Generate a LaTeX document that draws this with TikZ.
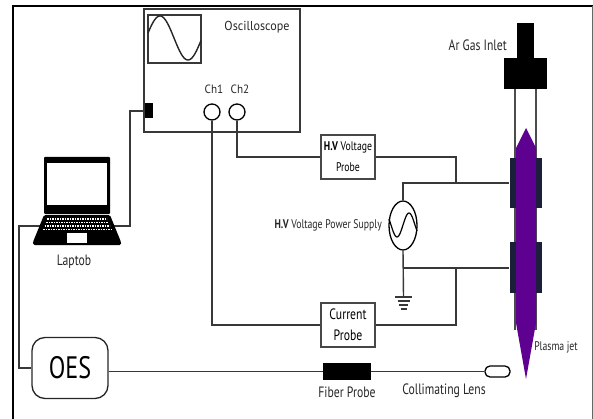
\documentclass[tikz,border=0pt]{standalone}
\usepackage{fontspec}
\usetikzlibrary{shapes.geometric}
\setmainfont[FakeStretch=0.93]{PT Sans}
\newfontfamily\narrowfont[FakeStretch=0.78]{PT Sans}
\definecolor{jetpurple}{HTML}{5E0090}
\definecolor{electrode}{HTML}{1A1F3A}
\tikzset{
  wire/.style={draw=black!78,line width=1.4pt},
  probebox/.style={draw=black!72,line width=1.5pt,fill=white,minimum width=54pt,minimum height=44pt,align=center,inner sep=0pt},
  lbl/.style={inner sep=0pt,text=black!85,font=\fontsize{13}{15}\selectfont},
  narrowlbl/.style={inner sep=0pt,text=black!85,font=\narrowfont\fontsize{12.5}{15}\selectfont},
  solid block/.style={fill=black,draw=none,inner sep=0pt}
}
\begin{document}
\begin{tikzpicture}[x=1pt,y=-1pt]
   \useasboundingbox (0,0) rectangle (593,419);
   % frame
   \draw[line width=1.4pt] (13,419) -- (13,6) -- (593,6);
   \draw[black!60,line width=0.6pt] (592.5,6) -- (592.5,419);
   % oscilloscope
   \node[draw=black!78,line width=1.4pt,minimum width=156pt,minimum height=123pt,inner sep=0pt] (scope) at (222,70.5) {};
   \node[draw=black!78,line width=1.3pt,minimum width=53pt,minimum height=48pt,inner sep=0pt] (screen) at (174.5,39) {};
   \draw[black!85,line width=1.4pt,domain=148:201,samples=60,smooth,variable=\x]
     plot({\x},{38-22*sin(6.4286*(\x-146))});
   \node[lbl] (scopelbl) at (257,27) {Oscilloscope};
   \node[draw=black,line width=1.3pt,circle,minimum size=16pt,inner sep=0pt] (chone) at (212,112) {};
   \node[draw=black,line width=1.3pt,circle,minimum size=16pt,inner sep=0pt] (chtwo) at (237,112) {};
   \node[lbl,font=\fontsize{12}{14}\selectfont] (chonelbl) at (214,89) {Ch1};
   \node[lbl,font=\fontsize{12}{14}\selectfont] (chtwolbl) at (240,89) {Ch2};
   \node[solid block,minimum width=8pt,minimum height=15pt] (port) at (148.5,111) {};
   % laptop wires, the laptop sits on top of them
   \coordinate (lapcorner) at (130,226);
   \coordinate (oescorner) at (19,226);
   \node[draw=black!85,line width=1.3pt,rounded corners=13pt,minimum width=76pt,minimum height=61pt,inner sep=0pt,font=\narrowfont\fontsize{31}{33}\selectfont] (oes) at (70,368) {OES};
   \draw[wire] (port.west) -| (lapcorner) -- (oescorner) |- (oes.west);
   % laptop
   \fill[black,rounded corners=1pt] (44,157) rectangle (110,214);
   \node[fill=white,minimum width=60pt,minimum height=42pt,inner sep=0pt] (lapscreen) at (77,184) {};
   \fill[black,rounded corners=1.5pt] (44,215) -- (110,215) -- (121,242) -- (121,245) -- (33,245) -- (33,242) -- cycle;
   \node[fill=white,minimum width=20pt,minimum height=10pt,inner sep=0pt] (pad) at (77,238) {};
   \draw[white,line width=1.3pt,dash pattern=on 1.6pt off 0.9pt] (47,219) -- (107,219);
   \draw[white,line width=1.3pt,dash pattern=on 1.6pt off 0.9pt] (46,222.5) -- (108,222.5);
   \draw[white,line width=1.3pt,dash pattern=on 1.6pt off 0.9pt] (44.5,226) -- (109.5,226);
   \draw[white,line width=1.3pt,dash pattern=on 1.6pt off 0.9pt] (43,229.5) -- (111,229.5);
   \node[narrowlbl,font=\narrowfont\fontsize{15}{17}\selectfont] (laplbl) at (74,262) {Laptob};
   % torch
   \node[solid block,minimum width=17pt,minimum height=35pt] (inlet) at (525.5,40.5) {};
   \node[solid block,minimum width=43pt,minimum height=31pt] (head) at (525.5,73.5) {};
   \node[narrowlbl,font=\narrowfont\fontsize{15}{17}\selectfont,anchor=east] (inletlbl) at (507,45) {Ar Gas Inlet};
   \draw[black!70,line width=1.2pt] (515,89) -- (515,330);
   \draw[black!70,line width=1.2pt] (536,89) -- (536,330);
   \node[fill=electrode,minimum width=32pt,minimum height=50pt,inner sep=0pt] (eltop) at (525.5,183) {};
   \node[fill=electrode,minimum width=32pt,minimum height=51pt,inner sep=0pt] (elbot) at (525.5,267.5) {};
   \fill[jetpurple] (526,128) -- (536,148) -- (536,323) -- (526,379) -- (516,323) -- (516,148) -- cycle;
   \node[narrowlbl] (jetlbl) at (556,347) {Plasma jet};
   % probes
   \node[probebox,font=\narrowfont\fontsize{12.5}{21}\selectfont] (hvprobe) at (348,157) {\textbf{H.V} Voltage\\Probe};
   \node[probebox,font=\narrowfont\fontsize{15}{21}\selectfont] (curprobe) at (348,325) {Current\\Probe};
   % source
   \node[draw=black,line width=1.3pt,ellipse,minimum width=28pt,minimum height=49pt,inner sep=0pt] (source) at (403,225.5) {};
   \draw[black,line width=1.2pt,domain=389:417,samples=40,smooth,variable=\x]
     plot({\x},{225-12*sin(15*(\x-403))});
   \node[narrowlbl,anchor=east] (sourcelbl) at (382,225) {\textbf{H.V} Voltage Power Supply};
   % wires
   \coordinate (gnd) at (403.5,297);
   \coordinate (topjoin) at (456,183);
   \coordinate (botjoin) at (456,268);
   \draw[wire] (chone.south) |- (curprobe.west);
   \draw[wire] (chtwo.south) |- (hvprobe.west);
   \draw[wire] (hvprobe.east) -| (topjoin);
   \draw[wire] (curprobe.east) -| (botjoin);
   \draw[wire] (source.north) |- (topjoin) -- (topjoin -| eltop.west);
   \draw[wire] (source.south) -- (gnd);
   \draw[wire] (gnd |- botjoin) -- (botjoin) -- (botjoin -| elbot.west);
   % ground
   \draw[wire] ([xshift=-8.5pt]gnd) -- ([xshift=8.5pt]gnd);
   \draw[wire] ([xshift=-6pt,yshift=-4pt]gnd) -- ([xshift=6pt,yshift=-4pt]gnd);
   \draw[wire] ([xshift=-4.5pt,yshift=-8pt]gnd) -- ([xshift=4.5pt,yshift=-8pt]gnd);
   \draw[wire] ([xshift=-3pt,yshift=-12pt]gnd) -- ([xshift=3pt,yshift=-12pt]gnd);
   % fiber
   \node[solid block,minimum width=48pt,minimum height=17pt] (fiber) at (347,371.5) {};
   \node[draw=black,line width=1.3pt,rounded corners=5pt,minimum width=25pt,minimum height=11pt,inner sep=0pt] (lens) at (497.5,371.5) {};
   \draw[wire] (oes.east |- fiber) -- (fiber.west);
   \draw[wire] (fiber.east) -- (lens.west);
   \node[narrowlbl,font=\narrowfont\fontsize{15}{17}\selectfont] (fiberlbl) at (347,392) {Fiber Probe};
   \node[narrowlbl,font=\narrowfont\fontsize{15}{17}\selectfont] (lenslbl) at (444,391) {Collimating Lens};
  \end{tikzpicture}
\end{document}
